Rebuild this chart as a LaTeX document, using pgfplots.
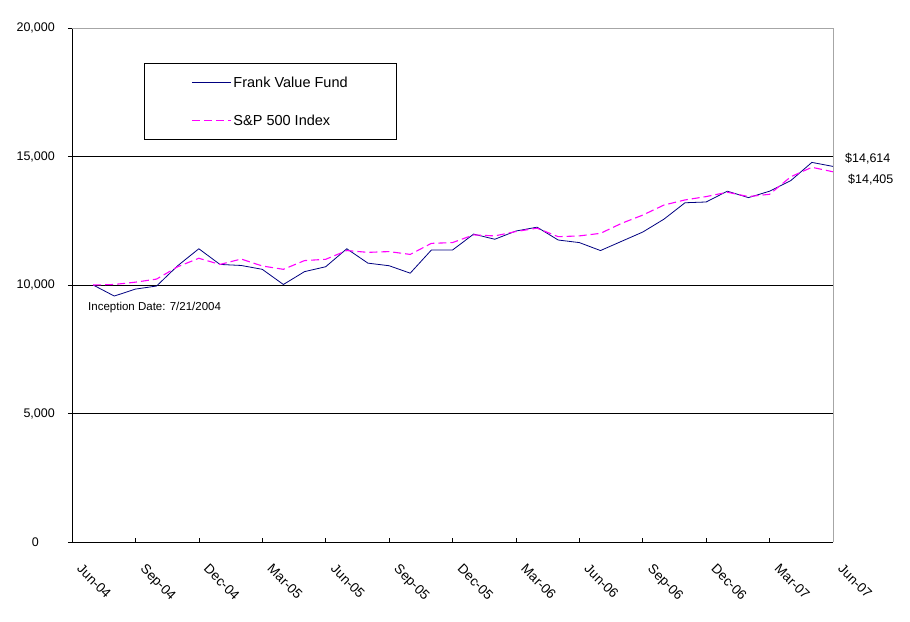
\documentclass[border=0pt]{standalone}
\usepackage{pgfplots}
\pgfplotsset{compat=1.18}
\usepackage{fontspec}
\setmainfont{Liberation Sans}
\definecolor{fundnavy}{RGB}{0,0,128}
\definecolor{spmag}{RGB}{255,0,255}
\begin{document}
\begin{tikzpicture}
\begin{axis}[
  at={(72pt,79pt)}, anchor=south west,
  scale only axis, width=761pt, height=514pt,
  xmin=0, xmax=36, ymin=0, ymax=20000,
  scaled y ticks=false,
  axis lines=left, axis line style={-, line width=0.8pt},
  xtick={0,3,...,36},
  xticklabels={Jun-04,Sep-04,Dec-04,Mar-05,Jun-05,Sep-05,Dec-05,Mar-06,Jun-06,Sep-06,Dec-06,Mar-07,Jun-07},
  ytick={0,5000,10000,15000,20000},
  yticklabels={{0\hspace*{16pt}},{5,000},{10,000},{15,000},{20,000}},
  tick align=inside, major tick length=4pt,
  tick style={black, line width=0.6pt},
  y tick style={xshift=-4pt},
  ymajorgrids, major grid style={black, line width=0.8pt},
  xticklabel style={xshift=11pt, yshift=-21pt, rotate=-45, anchor=north west, inner sep=0pt, font=\fontsize{13.5}{15}\selectfont},
  yticklabel style={anchor=east, inner sep=0pt, xshift=-17pt, font=\fontsize{12.5}{15}\selectfont},
  clip=false,
  legend style={at={(rel axis cs:0.0946,0.9313)}, anchor=north west, draw=black, line width=0.8pt,
    font=\fontsize{14.5}{17}\selectfont, inner xsep=47pt, inner ysep=11pt, row sep=22pt, cells={anchor=west}},
  legend image code/.code={\draw[#1] (0pt,0pt) -- (39pt,0pt);},
]
\addplot[fundnavy, line width=0.8pt] coordinates {
(1,10000) (2,9570) (3,9840) (4,9960) (5,10750) (6,11410) (7,10800) (8,10760) (9,10610) (10,10020)
(11,10520) (12,10710) (13,11410) (14,10850) (15,10750) (16,10460) (17,11360) (18,11360) (19,11980) (20,11780)
(21,12100) (22,12250) (23,11750) (24,11650) (25,11340) (26,11700) (27,12060) (28,12560) (29,13200) (30,13230)
(31,13650) (32,13400) (33,13650) (34,14060) (35,14770) (36,14614)};
\addlegendentry{Frank Value Fund}
\addplot[spmag, line width=1.1pt, dash pattern=on 8pt off 4pt] coordinates {
(1,10000) (2,10020) (3,10110) (4,10230) (5,10710) (6,11040) (7,10800) (8,11010) (9,10740) (10,10610)
(11,10950) (12,11000) (13,11340) (14,11270) (15,11300) (16,11190) (17,11620) (18,11650) (19,11950) (20,11910)
(21,12080) (22,12210) (23,11880) (24,11910) (25,12010) (26,12400) (27,12720) (28,13110) (29,13310) (30,13440)
(31,13610) (32,13440) (33,13530) (34,14210) (35,14580) (36,14405)};
\addlegendentry{S\&P 500 Index}
\draw[gray!70, line width=0.8pt] (rel axis cs:0,1) -- (rel axis cs:1,1) -- (rel axis cs:1,0);
\node[anchor=west, inner sep=0pt, font=\fontsize{12.5}{15}\selectfont, xshift=12pt, yshift=8pt] at (axis cs:36,14614) {\$14,614};
\node[anchor=west, inner sep=0pt, font=\fontsize{12.5}{15}\selectfont, xshift=15pt, yshift=-8pt] at (axis cs:36,14405) {\$14,405};
\node[anchor=west, inner sep=0pt, font=\fontsize{11.5}{14}\selectfont] at (axis cs:0.757,9105) {Inception Date: 7/21/2004};
\end{axis}
\pgfresetboundingbox
\path[use as bounding box] (0,0) rectangle (910pt,621pt);
\end{tikzpicture}
\end{document}
